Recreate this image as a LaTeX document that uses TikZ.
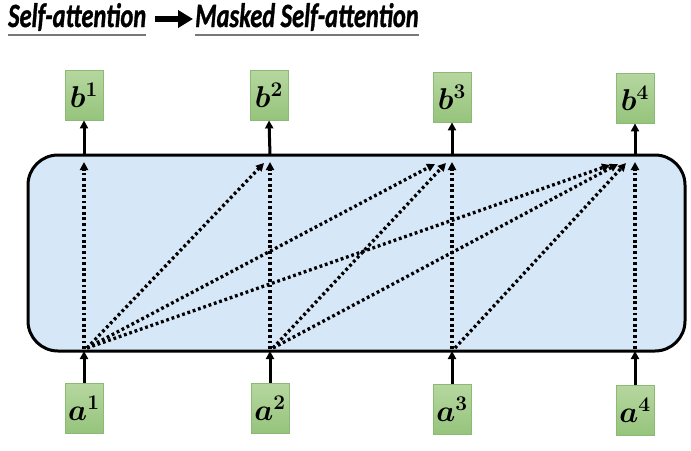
\documentclass[tikz,border=0pt]{standalone}
\usepackage{fontspec}
\usepackage{bm}
\usetikzlibrary{arrows.meta}
\newfontfamily\titlefont[FakeBold=1.2]{Carlito}
\definecolor{panelblue}{RGB}{214,231,248}
\definecolor{boxtop}{RGB}{182,215,160}
\definecolor{boxbot}{RGB}{150,196,124}
\definecolor{boxedge}{RGB}{140,185,115}
\definecolor{ulgray}{RGB}{120,120,120}
\newcommand{\vlab}[2]{\scalebox{1.45}{$\bm{#1}^{\bm{#2}}$}}
\tikzset{
  vecbox/.style={draw=boxedge, line width=0.8pt, top color=boxtop, bottom color=boxbot, minimum width=38pt, minimum height=50pt, inner sep=0pt, font=\fontsize{20}{24}\selectfont},
  solidarrow/.style={line width=3pt, -{Triangle[width=8pt,length=8pt]}},
  dotarrow/.style={line width=3.3pt, dash pattern=on 2.8pt off 2.8pt, -{Triangle[width=8pt,length=8pt]}},
  titletext/.style={anchor=base west, inner sep=0pt, font=\titlefont\bfseries\itshape\fontsize{34}{36}\selectfont},
}
\begin{document}
\begin{tikzpicture}[x=1pt,y=-1pt]
\useasboundingbox (0,0) rectangle (691,450);
% title
\node[titletext] (t1) at (8,27) {\scalebox{0.72}[1]{Self-attention}};
\node[titletext] (t2) at (195,27) {\scalebox{0.72}[1]{Masked Self-attention}};
\draw[ulgray, line width=1.6pt] (t1.west |- 0,35) -- (t1.east |- 0,35);
\draw[ulgray, line width=1.6pt] (t2.west |- 0,35) -- (t2.east |- 0,35);
\coordinate (ta) at (155,19);
\coordinate (tb) at (193,19);
\draw[line width=6.5pt, -{Triangle[width=17pt,length=15pt]}] (ta) -- (tb);
% panel
\draw[line width=3pt, fill=panelblue, rounded corners=30pt] (28,155) rectangle (685,351);
% boxes
\node[vecbox] (b1) at (84,95) {\vlab{b}{1}};
\node[vecbox] (b2) at (269,95) {\vlab{b}{2}};
\node[vecbox] (b3) at (452,97) {\vlab{b}{3}};
\node[vecbox] (b4) at (635,98) {\vlab{b}{4}};
\node[vecbox] (a1) at (84,408) {\vlab{a}{1}};
\node[vecbox] (a2) at (270,408) {\vlab{a}{2}};
\node[vecbox] (a3) at (452,409) {\vlab{a}{3}};
\node[vecbox] (a4) at (635,410) {\vlab{a}{4}};
% panel edge points
\foreach \i/\x in {1/84,2/270,3/452,4/635}{
  \coordinate (top\i) at (\x,155);
  \coordinate (bot\i) at (\x,351);
  \coordinate (in\i) at (\x,162);
  \coordinate (out\i) at (\x,349);
}
\foreach \i in {1,2,3,4}{
  \draw[solidarrow] (a\i.north) -- (bot\i);
  \draw[solidarrow] (top\i) -- (b\i.south);
  \draw[dotarrow] (out\i) -- (in\i);
}
% diagonal dotted arrows
\coordinate (e12) at (264,163);
\coordinate (e13) at (435,164);
\coordinate (e23) at (446,163);
\coordinate (e14) at (610,165);
\coordinate (e24) at (618,164);
\coordinate (e34) at (626,163);
\coordinate (s1) at (87,348);
\coordinate (s2) at (273,348);
\coordinate (s3) at (455,348);
\draw[dotarrow] (s1) -- (e12);
\draw[dotarrow] (s1) -- (e13);
\draw[dotarrow] (s1) -- (e14);
\draw[dotarrow] (s2) -- (e23);
\draw[dotarrow] (s2) -- (e24);
\draw[dotarrow] (s3) -- (e34);
\end{tikzpicture}
\end{document}
